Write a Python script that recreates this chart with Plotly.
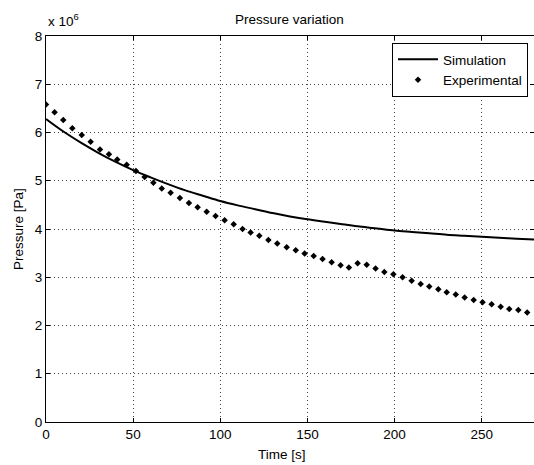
import plotly.graph_objects as go

# Simulation curve (time [s], pressure [Pa])
sim_t = [0, 10, 20, 30, 40, 50, 60, 70, 80, 90, 100, 110, 120, 130, 140, 150,
         160, 170, 180, 190, 200, 210, 220, 230, 240, 250, 260, 270, 280]
sim_p = [6.28e6, 6.02e6, 5.79e6, 5.58e6, 5.39e6, 5.22e6, 5.07e6, 4.93e6, 4.80e6,
         4.69e6, 4.58e6, 4.49e6, 4.41e6, 4.33e6, 4.26e6, 4.20e6, 4.15e6, 4.10e6,
         4.05e6, 4.01e6, 3.97e6, 3.94e6, 3.91e6, 3.88e6, 3.86e6, 3.84e6, 3.82e6,
         3.80e6, 3.78e6]

# Experimental points
exp_t = [0, 4.9, 9.9, 15.1, 20.5, 25.6, 31.0, 36.1, 40.9, 46.3, 51.6, 56.6, 61.6,
         66.4, 71.5, 76.8, 82.0, 87.0, 92.2, 97.3, 102.5, 107.7, 112.8, 117.4,
         122.4, 127.6, 132.7, 138.1, 143.3, 148.4, 153.6, 158.7, 163.9, 169.0,
         173.8, 178.8, 184.0, 189.1, 194.1, 199.3, 204.6, 209.8, 215.0, 219.9,
         225.1, 229.9, 235.1, 240.2, 245.4, 250.5, 255.7, 260.9, 265.8, 271.0, 276.1]
exp_p = [6.58, 6.42, 6.26, 6.09, 5.95, 5.81, 5.65, 5.55, 5.44, 5.33, 5.20, 5.08, 4.96,
         4.84, 4.75, 4.64, 4.54, 4.45, 4.36, 4.27, 4.18, 4.10, 4.00, 3.93,
         3.86, 3.77, 3.70, 3.62, 3.56, 3.49, 3.44, 3.38, 3.31, 3.25,
         3.20, 3.29, 3.26, 3.18, 3.11, 3.06, 3.00, 2.93, 2.86, 2.81,
         2.75, 2.69, 2.64, 2.58, 2.53, 2.48, 2.44, 2.39, 2.34, 2.32, 2.27]
exp_p = [v * 1e6 for v in exp_p]

x_ticks = [0, 50, 100, 150, 200, 250]
y_ticks = [0, 1e6, 2e6, 3e6, 4e6, 5e6, 6e6, 7e6, 8e6]
y_tick_text = ["0", "1", "2", "3", "4", "5", "6", "7", "8"]

FONT = "Liberation Sans, Arial, sans-serif"
FS = 13.5

fig = go.Figure()
fig.add_trace(go.Scatter(x=sim_t, y=sim_p, mode="lines", name="Simulation",
                         line=dict(color="black", width=2, shape="spline")))
fig.add_trace(go.Scatter(x=exp_t, y=exp_p, mode="markers", name="Experimental",
                         marker=dict(symbol="diamond", size=5, color="black",
                                     line=dict(width=0))))

axis_common = dict(showline=True, linecolor="black", linewidth=1, mirror="ticks",
                   ticks="inside", ticklen=4, tickcolor="black", tickwidth=1,
                   showgrid=True, gridcolor="#444444", gridwidth=1, griddash="1px,3px",
                   zeroline=False, tickfont=dict(family=FONT, size=FS, color="black"))

fig.update_xaxes(range=[0, 280], tickvals=x_ticks, **axis_common)
fig.update_yaxes(range=[0, 8e6], tickvals=y_ticks, ticktext=y_tick_text, **axis_common)

W, H = 534, 465
L, R, T, B = 46, 0, 36, 43
pw, ph = W - L - R, H - T - B

def px(xp):
    return (xp - L) / pw

def py(yp):
    return (H - B - yp) / ph

fig.update_layout(
    width=W, height=H,
    margin=dict(l=L, r=R, t=T, b=B, pad=0),
    paper_bgcolor="white", plot_bgcolor="white",
    font=dict(family=FONT, size=FS, color="black"),
    showlegend=True,
    legend=dict(x=px(528), y=py(43), xanchor="right", yanchor="top",
                bgcolor="white", bordercolor="black", borderwidth=1,
                font=dict(family=FONT, size=FS, color="black"),
                itemwidth=40, tracegroupgap=0),
    annotations=[
        dict(text="Pressure variation", x=px(289), y=py(19), xref="paper", yref="paper",
             showarrow=False, xanchor="center", yanchor="middle",
             font=dict(family=FONT, size=FS, color="black")),
        dict(text="Time [s]", x=px(282), y=py(454), xref="paper", yref="paper",
             showarrow=False, xanchor="center", yanchor="middle",
             font=dict(family=FONT, size=FS, color="black")),
        dict(text="Pressure [Pa]", x=px(18), y=py(229), xref="paper", yref="paper",
             showarrow=False, xanchor="center", yanchor="middle", textangle=-90,
             font=dict(family=FONT, size=FS, color="black")),
        dict(text="x 10<sup>6</sup>", x=px(46), y=py(31), xref="paper", yref="paper",
             showarrow=False, xanchor="left", yanchor="bottom",
             font=dict(family=FONT, size=FS, color="black")),
    ],
)

fig.write_html("out.html")
